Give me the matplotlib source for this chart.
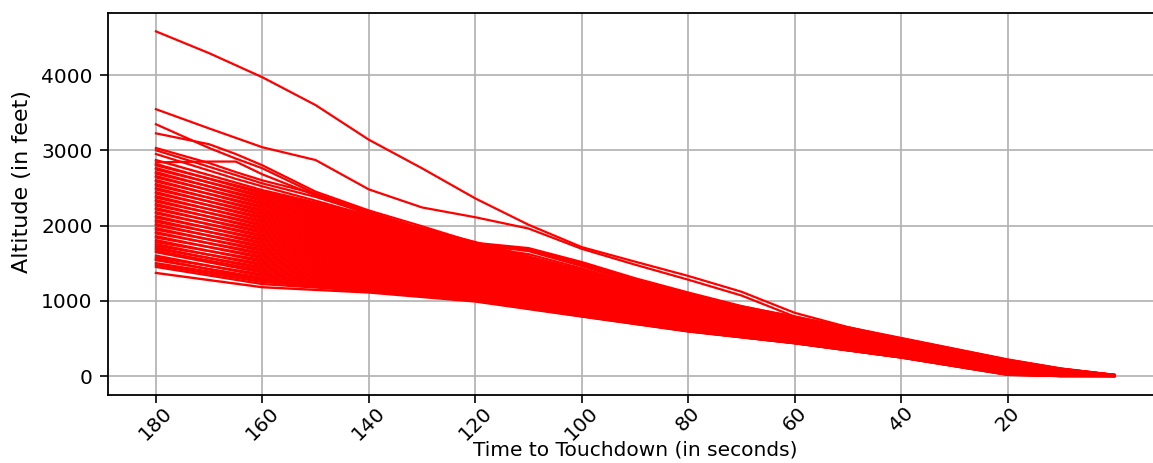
import matplotlib
matplotlib.use("Agg")
import matplotlib.pyplot as plt

# ---- data ----
bundle_times = [180, 160, 140, 120, 100, 80, 60, 40, 20, 10, 0]
bundle_altitudes = [
    [1370, 1180, 1110, 990, 790, 592, 435, 245, 15, 0, 0],
    [1450, 1222, 1130, 1000, 795, 596, 437, 247, 18, 0, 0],
    [1475, 1250, 1145, 1015, 798, 598, 438, 248, 20, 1, 0],
    [1500, 1275, 1160, 1025, 805, 603, 442, 252, 23, 1, 0],
    [1555, 1280, 1170, 1040, 800, 600, 440, 250, 25, 0, 0],
    [1540, 1304, 1189, 1055, 812, 609, 447, 255, 29, 2, 0],
    [1600, 1328, 1209, 1070, 824, 618, 454, 260, 33, 4, 1],
    [1575, 1351, 1228, 1084, 836, 628, 461, 265, 37, 6, 1],
    [1646, 1375, 1248, 1099, 848, 637, 468, 270, 41, 8, 1],
    [1665, 1399, 1267, 1114, 872, 646, 475, 276, 45, 10, 2],
    [1710, 1423, 1286, 1129, 860, 655, 482, 281, 48, 12, 2],
    [1690, 1447, 1306, 1144, 884, 664, 489, 286, 52, 14, 2],
    [1753, 1470, 1325, 1158, 896, 674, 496, 291, 56, 16, 2],
    [1732, 1494, 1345, 1173, 908, 683, 503, 296, 60, 18, 3],
    [1806, 1518, 1364, 1188, 932, 692, 510, 301, 64, 20, 3],
    [1780, 1542, 1383, 1203, 920, 701, 517, 306, 68, 22, 3],
    [1859, 1566, 1403, 1218, 944, 710, 524, 311, 72, 24, 4],
    [1840, 1589, 1422, 1232, 956, 720, 531, 316, 76, 26, 4],
    [1912, 1613, 1442, 1247, 968, 729, 538, 321, 80, 28, 4],
    [1895, 1637, 1461, 1262, 980, 738, 545, 327, 84, 30, 5],
    [1966, 1661, 1480, 1277, 1004, 747, 552, 332, 87, 32, 5],
    [1945, 1685, 1500, 1292, 992, 756, 559, 337, 91, 34, 5],
    [2019, 1708, 1519, 1306, 1016, 766, 566, 342, 95, 36, 5],
    [2000, 1732, 1539, 1321, 1028, 775, 573, 347, 99, 38, 6],
    [2072, 1756, 1558, 1336, 1040, 784, 580, 352, 103, 40, 6],
    [2050, 1780, 1577, 1351, 1052, 793, 587, 357, 107, 42, 6],
    [2125, 1804, 1597, 1366, 1076, 802, 594, 362, 111, 44, 7],
    [2105, 1827, 1616, 1380, 1064, 812, 601, 367, 115, 46, 7],
    [2178, 1851, 1636, 1395, 1088, 821, 608, 372, 119, 48, 7],
    [2160, 1875, 1655, 1410, 1100, 830, 615, 378, 123, 50, 8],
    [2232, 1899, 1674, 1425, 1112, 839, 622, 383, 126, 52, 8],
    [2212, 1923, 1694, 1440, 1124, 848, 629, 388, 130, 54, 8],
    [2285, 1946, 1713, 1454, 1148, 858, 636, 393, 134, 56, 8],
    [2265, 1970, 1733, 1469, 1136, 867, 643, 398, 138, 58, 9],
    [2338, 1994, 1752, 1484, 1160, 876, 650, 403, 142, 60, 9],
    [2318, 2018, 1771, 1499, 1172, 885, 657, 408, 146, 62, 9],
    [2391, 2042, 1791, 1514, 1184, 894, 664, 413, 150, 64, 10],
    [2370, 2065, 1810, 1528, 1196, 904, 671, 418, 154, 66, 10],
    [2444, 2089, 1830, 1543, 1220, 913, 678, 423, 158, 68, 10],
    [2425, 2113, 1849, 1558, 1208, 922, 685, 429, 162, 70, 11],
    [2498, 2137, 1868, 1573, 1232, 931, 692, 434, 165, 72, 11],
    [2478, 2161, 1888, 1588, 1244, 940, 699, 439, 169, 74, 11],
    [2551, 2184, 1907, 1602, 1256, 950, 706, 444, 173, 76, 11],
    [2530, 2208, 1927, 1617, 1268, 959, 713, 449, 177, 78, 12],
    [2604, 2232, 1946, 1632, 1292, 968, 720, 454, 181, 80, 12],
    [2585, 2256, 1965, 1647, 1280, 977, 727, 459, 185, 82, 12],
    [2657, 2280, 1985, 1662, 1304, 986, 734, 464, 189, 84, 13],
    [2640, 2303, 2004, 1676, 1316, 996, 741, 469, 193, 86, 13],
    [2710, 2327, 2024, 1691, 1328, 1005, 748, 474, 197, 88, 13],
    [2690, 2351, 2043, 1706, 1340, 1014, 755, 480, 201, 90, 14],
    [2764, 2375, 2062, 1721, 1352, 1023, 762, 485, 204, 92, 14],
    [2745, 2399, 2082, 1736, 1364, 1032, 769, 490, 208, 94, 14],
    [2817, 2422, 2101, 1750, 1376, 1042, 776, 495, 212, 96, 14],
    [2800, 2446, 2121, 1765, 1388, 1051, 783, 500, 216, 98, 15],
    [2870, 2470, 2140, 1780, 1400, 1060, 790, 505, 220, 100, 15],
]

outlier_times = [180, 170, 165, 160, 150, 140, 130, 120, 110, 100,
                 90, 80, 70, 60, 50, 40, 30, 20, 10, 0]
outlier_altitudes = [
    [4580, 4290, 4130, 3970, 3600, 3140, 2760, 2360, 2010, 1713, 1520, 1330, 1120, 840, 650, 490, 330, 190, 70, 10],
    [3546, 3290, 3165, 3040, 2870, 2480, 2240, 2110, 1960, 1690, 1480, 1280, 1070, 790, 630, 480, 320, 180, 60, 5],
    [3346, 3030, 2890, 2760, 2420, 2170, 1960, 1750, 1690, 1500, 1290, 1100, 920, 770, 620, 470, 310, 170, 60, 5],
    [3225, 3080, 2950, 2800, 2450, 2200, 1990, 1770, 1700, 1515, 1300, 1110, 930, 780, 625, 475, 315, 175, 62, 5],
    [2840, 2850, 2850, 2680, 2400, 2150, 1920, 1740, 1680, 1480, 1270, 1090, 910, 775, 620, 470, 310, 172, 60, 5],
    [3030, 2830, 2710, 2600, 2420, 2180, 1950, 1745, 1660, 1460, 1250, 1075, 900, 770, 615, 468, 308, 170, 58, 5],
    [3000, 2780, 2670, 2560, 2380, 2160, 1930, 1720, 1620, 1430, 1230, 1065, 895, 765, 610, 465, 305, 168, 56, 5],
    [2950, 2730, 2620, 2520, 2330, 2130, 1910, 1700, 1580, 1410, 1210, 1060, 890, 760, 605, 462, 302, 166, 55, 5],
]

x_ticks = [180, 160, 140, 120, 100, 80, 60, 40, 20]
y_ticks = [0, 1000, 2000, 3000, 4000]

# ---- figure ----
W, H = 1153, 463
fig = plt.figure(figsize=(W / 100, H / 100), dpi=100)
ax = fig.add_axes([108 / W, 68 / H, (1162 - 108) / W, 382 / H])

for row in bundle_altitudes:
    ax.plot(bundle_times, row, color="red", lw=1.7, solid_joinstyle="round")
for row in outlier_altitudes:
    ax.plot(outlier_times, row, color="red", lw=1.6, solid_joinstyle="round")

ax.set_xlim(189, -9)
ax.set_ylim(-252, 4824)
ax.set_xticks(x_ticks)
ax.set_xticklabels([str(v) for v in x_ticks], rotation=45, ha="center", fontsize=14.5)
ax.set_yticks(y_ticks)
ax.set_yticklabels([str(v) for v in y_ticks], fontsize=14.5)
ax.grid(True, color="#b0b0b0", lw=1.2)
ax.set_axisbelow(True)
for s in ax.spines.values():
    s.set_linewidth(1.3)
ax.tick_params(length=6, width=1.2, pad=5)
ax.tick_params(axis="x", pad=0)
ax.set_xlabel("Time to Touchdown (in seconds)", fontsize=14.5)
ax.set_ylabel("Altitude (in feet)", fontsize=16)
ax.xaxis.set_label_coords(0.5, -0.118)
ax.yaxis.set_label_coords(-0.072, 0.56)

fig.savefig("out.png", dpi=100)
